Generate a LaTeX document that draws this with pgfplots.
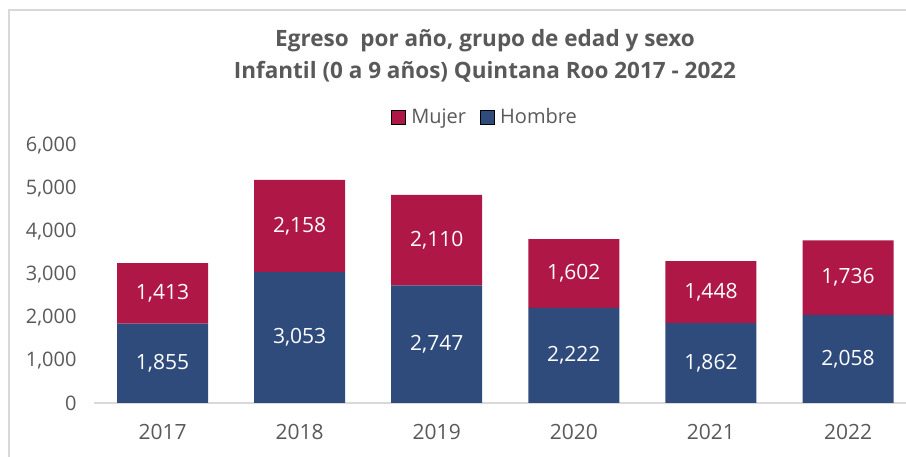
\documentclass[border=0pt]{standalone}
\usepackage{pgfplots}
\pgfplotsset{compat=1.18}
\usepackage{pgfplotstable}
\usepackage{fontspec}
\setmainfont{Open Sans}
\definecolor{mujer}{HTML}{AE1746}
\definecolor{hombre}{HTML}{2F4B7C}
\definecolor{txt}{HTML}{595959}
\definecolor{rule}{HTML}{D9D9D9}
\pgfplotsset{/pgf/number format/assume math mode=true, /pgf/number format/1000 sep={,}}

% egresos infantiles por sexo
\pgfplotstableread{
x h m
0 1855 1413
1 3053 2158
2 2747 2110
3 2222 1602
4 1862 1448
5 2058 1736
}\datos

\begin{document}
\begin{tikzpicture}[x=1pt,y=1pt]
\path[use as bounding box] (0,0) rectangle (906,457);
\draw[rule, line width=2pt] (9,0) -- (9,447) -- (906,447);
\node[txt, font=\fontsize{22.5}{32}\selectfont\bfseries, align=center] at (485,401)
  {Egreso\ \ por año, grupo de edad y sexo\\Infantil (0 a 9 años) Quintana Roo 2017 - 2022};
\begin{axis}[
  at={(94pt,54pt)}, anchor=south west, scale only axis, width=812pt, height=257pt,
  xmin=-0.5, xmax=5.423, ymin=0, ymax=6000,
  ybar stacked, bar width=91pt,
  axis lines*=left, y axis line style={draw=none}, x axis line style={rule, line width=2pt},
  tick style={draw=none},
  ytick={0,1000,...,6000}, scaled y ticks=false,
  yticklabel style={txt, font=\fontsize{20}{24}\selectfont, xshift=-14pt},
  xtick=data, xticklabels={2017,2018,2019,2020,2021,2022},
  xticklabel style={txt, font=\fontsize{21}{24}\selectfont, yshift=-18pt},
  legend style={at={(0.4815,1.113)}, anchor=center, legend columns=2, draw=none, fill=none,
    font=\fontsize{20}{24}\selectfont, text=txt, /tikz/every even column/.append style={column sep=12pt}},
  legend image code/.code={\draw[#1] (0pt,-7pt) rectangle (14pt,7pt); \path (18pt,0pt);},
  reverse legend,
]
\addplot[fill=hombre, draw=none] table[x=x, y=h]{\datos};
\addlegendentry{Hombre}
\addplot[fill=mujer, draw=none] table[x=x, y=m]{\datos};
\addlegendentry{Mujer}
\end{axis}
\begin{axis}[
  at={(94pt,54pt)}, anchor=south west, scale only axis, width=812pt, height=257pt,
  xmin=-0.5, xmax=5.423, ymin=0, ymax=6000, hide axis,
  nodes near coords, point meta=explicit,
  nodes near coords style={anchor=center, white, font=\fontsize{21}{24}\selectfont},
]
\addplot[only marks, mark=none] table[x=x, y expr=\thisrow{h}/2, meta=h]{\datos};
\addplot[only marks, mark=none] table[x=x, y expr=\thisrow{h}+\thisrow{m}/2, meta=m]{\datos};
\end{axis}
\end{tikzpicture}
\end{document}
